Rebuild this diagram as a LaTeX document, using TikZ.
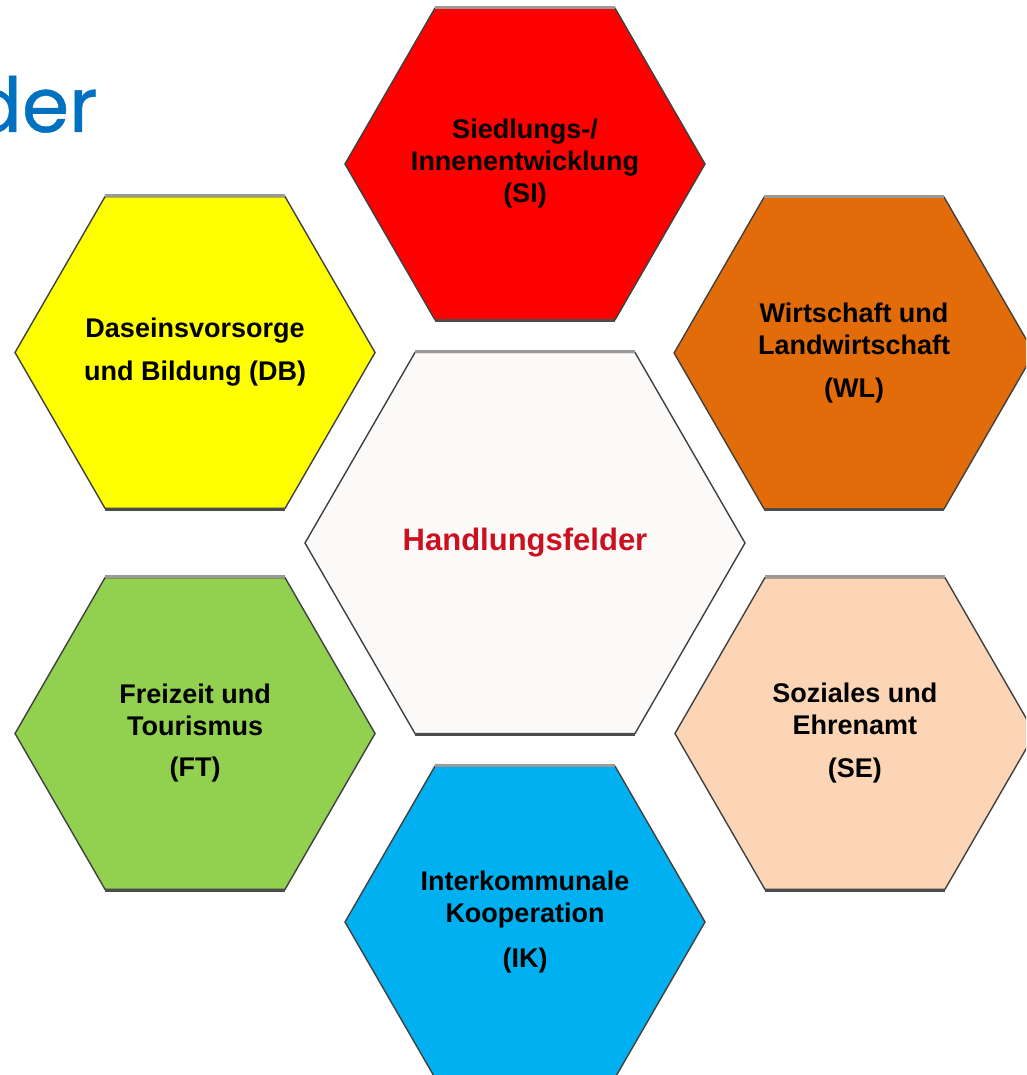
\documentclass[tikz,border=0pt]{standalone}
\usepackage{fontspec}
\setmainfont{Liberation Sans}
\newfontfamily\titlefont{Poppins}[FakeBold=0.6]
\usetikzlibrary{shapes.geometric}

\definecolor{siRed}{HTML}{FF0000}
\definecolor{wlOrange}{HTML}{E36C0A}
\definecolor{dbYellow}{HTML}{FFFF00}
\definecolor{ftGreen}{HTML}{92D050}
\definecolor{sePeach}{HTML}{FBD5B5}
\definecolor{ikBlue}{HTML}{00B0F0}
\definecolor{hfWhite}{HTML}{FBFAF8}
\definecolor{hfRed}{HTML}{CC1020}
\definecolor{titleBlue}{HTML}{0070C0}

\tikzset{
  hexa/.style={regular polygon, regular polygon sides=6, minimum size=360pt,
    inner sep=0pt, outer sep=0pt, draw=black!75, line width=1.4pt},
  hextext/.style={align=center, inner sep=0pt,
    font=\fontsize{27}{32}\selectfont\bfseries},
  topedge/.style={draw=black!40, line width=3pt},
  botedge/.style={draw=black!70, line width=3pt}
}

\begin{document}
\begin{tikzpicture}[x=1pt,y=1pt]
\clip (-525,543) rectangle (501,-532);
\fill[white] (-525,543) rectangle (501,-532);
% title, cut at the left edge
\node[anchor=base east, text=titleBlue, font=\titlefont\fontsize{76}{80}\selectfont] (title) at (-424,411) {der};
% centre
\node[hexa, minimum size=440pt, fill=hfWhite] (hf) at (0,0) {};
\node[hextext, text=hfRed, font=\fontsize{31}{36}\selectfont\bfseries] (hf-t) at (hf) {Handlungsfelder};
% fields
\node[hexa, fill=siRed] (si) at (90:379) {};
\node[hexa, fill=wlOrange] (wl) at (30:380) {};
\node[hexa, fill=sePeach] (se) at (-30:381) {};
\node[hexa, fill=ikBlue] (ik) at (-90:379) {};
\node[hexa, fill=ftGreen] (ft) at (210:381) {};
\node[hexa, fill=dbYellow] (db) at (150:381) {};
\node[hextext] (si-t) at (si) {Siedlungs-/\\Innenentwicklung\\(SI)};
\node[hextext] (wl-t) at (wl) {Wirtschaft und\\Landwirtschaft\\[11pt](WL)};
\node[hextext] (se-t) at (se) {Soziales und\\Ehrenamt\\[11pt](SE)};
\node[hextext] (ik-t) at (ik) {Interkommunale\\Kooperation\\[13pt](IK)};
\node[hextext] (ft-t) at (ft) {Freizeit und\\Tourismus\\[9pt](FT)};
\node[hextext] (db-t) at (db) {Daseinsvorsorge\\[11pt]und Bildung (DB)};
% light top edge, dark bottom edge
\foreach \n in {si,wl,se,ik,ft,db}{
  \draw[topedge] ([xshift=-90pt,yshift=1pt]\n.north) -- ([xshift=90pt,yshift=1pt]\n.north);
  \draw[botedge] ([xshift=-90pt,yshift=-1pt]\n.south) -- ([xshift=90pt,yshift=-1pt]\n.south);
}
\draw[topedge] ([xshift=-110pt,yshift=1pt]hf.north) -- ([xshift=110pt,yshift=1pt]hf.north);
\draw[botedge] ([xshift=-110pt,yshift=-1pt]hf.south) -- ([xshift=110pt,yshift=-1pt]hf.south);
\end{tikzpicture}
\end{document}
